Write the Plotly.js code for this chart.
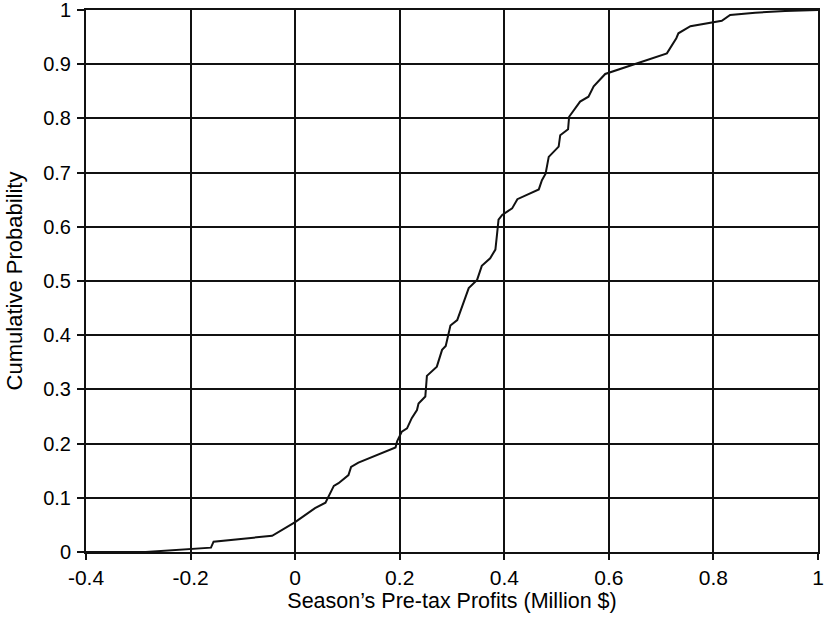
<!DOCTYPE html>
<html>
<head>
<meta charset="utf-8">
<script src="https://cdn.plot.ly/plotly-3.0.1.min.js"></script>
<style>html,body{margin:0;padding:0;background:#fff;}#chart{width:825px;height:618px;}</style>
</head>
<body>
<div id="chart"></div>
<script>
const profits = [-0.40, -0.286, -0.161, -0.156, -0.044, 0.0, 0.038, 0.058, 0.074, 0.083, 0.102, 0.107, 0.121, 0.192, 0.195, 0.204, 0.214, 0.223, 0.233, 0.236, 0.249, 0.252, 0.271, 0.281, 0.288, 0.297, 0.310, 0.322, 0.332, 0.348, 0.357, 0.373, 0.383, 0.386, 0.389, 0.396, 0.415, 0.425, 0.446, 0.466, 0.472, 0.479, 0.485, 0.504, 0.507, 0.522, 0.524, 0.545, 0.561, 0.571, 0.593, 0.657, 0.682, 0.711, 0.729, 0.733, 0.756, 0.797, 0.816, 0.832, 0.880, 0.937, 0.975, 1.0];
const cumProb = [0.0, 0.0, 0.008, 0.019, 0.030, 0.055, 0.081, 0.091, 0.122, 0.127, 0.142, 0.157, 0.165, 0.193, 0.204, 0.222, 0.228, 0.247, 0.262, 0.274, 0.287, 0.325, 0.342, 0.373, 0.380, 0.418, 0.428, 0.459, 0.487, 0.502, 0.528, 0.542, 0.558, 0.585, 0.613, 0.622, 0.634, 0.651, 0.660, 0.669, 0.686, 0.698, 0.729, 0.748, 0.769, 0.780, 0.803, 0.831, 0.840, 0.859, 0.882, 0.902, 0.911, 0.920, 0.948, 0.957, 0.970, 0.977, 0.980, 0.991, 0.995, 0.998, 1.0, 1.0];
const xTickVals = [-0.4, -0.2, 0, 0.2, 0.4, 0.6, 0.8, 1];
const xTickText = ["-0.4", "-0.2", "0", "0.2", "0.4", "0.6", "0.8", "1"];
const yTickVals = [0, 0.1, 0.2, 0.3, 0.4, 0.5, 0.6, 0.7, 0.8, 0.9, 1];
const yTickText = ["0", "0.1", "0.2", "0.3", "0.4", "0.5", "0.6", "0.7", "0.8", "0.9", "1"];

const fam = "Liberation Sans, Arial, Helvetica, sans-serif";
const f = (s) => ({family: fam, size: s, color: "#000"});
Plotly.newPlot("chart", [{
  x: profits, y: cumProb, type: "scatter", mode: "lines",
  line: {color: "#111", width: 2}, hoverinfo: "skip"
}], {
  width: 825, height: 618,
  margin: {l: 86, r: 7, t: 10, b: 66},
  paper_bgcolor: "#fff", plot_bgcolor: "#fff",
  showlegend: false,
  font: f(16),
  xaxis: {
    range: [-0.4, 1], tickmode: "array", tickvals: xTickVals, ticktext: xTickText,
    showgrid: true, gridcolor: "#111", gridwidth: 2,
    showline: true, linecolor: "#111", linewidth: 2, mirror: true,
    ticks: "outside", ticklen: 6, tickcolor: "#111", tickwidth: 2,
    ticklabelstandoff: 0, ticklabeloverflow: "allow",
    zeroline: false, tickfont: f(21),
    title: {text: "Season’s Pre-tax Profits (Million $)", font: f(21.5), standoff: 2}
  },
  yaxis: {
    range: [0, 1], tickmode: "array", tickvals: yTickVals, ticktext: yTickText,
    showgrid: true, gridcolor: "#111", gridwidth: 2,
    showline: true, linecolor: "#111", linewidth: 2, mirror: true,
    ticks: "outside", ticklen: 7, tickcolor: "#111", tickwidth: 2,
    ticklabelstandoff: 2, ticklabeloverflow: "allow",
    zeroline: false, tickfont: f(20),
    title: {text: "Cumulative Probability", font: f(22), standoff: 14}
  }
}, {staticPlot: true});
</script>
</body>
</html>
